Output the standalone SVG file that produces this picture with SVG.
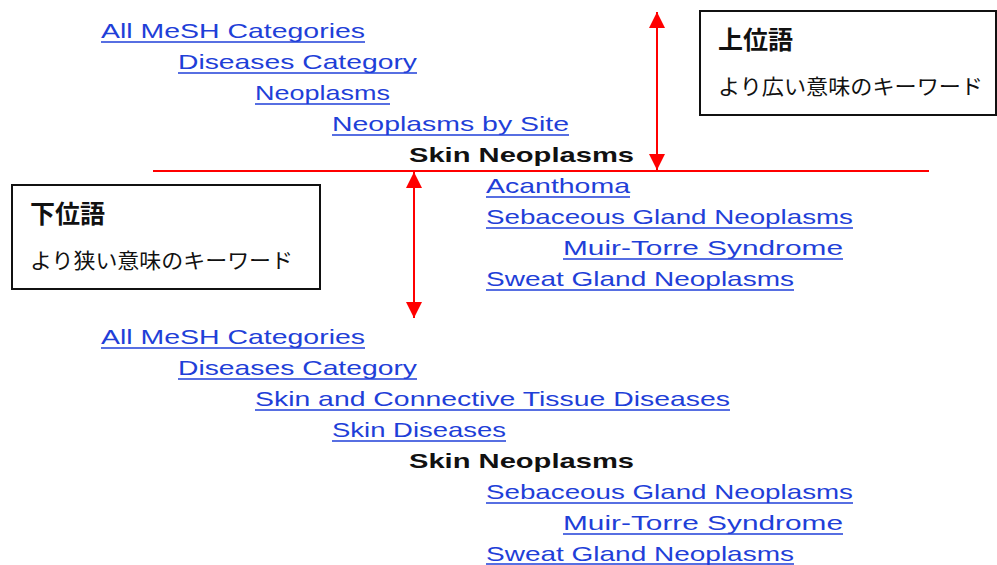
<svg xmlns="http://www.w3.org/2000/svg" width="997" height="565" viewBox="0 0 997 565">
<defs>
<style>
.lk{font-family:"Liberation Sans","DejaVu Sans",sans-serif;font-size:21px;fill:#1f3fd8}
.cur{font-family:"Liberation Sans","DejaVu Sans",sans-serif;font-size:21px;font-weight:bold;fill:#111}
.ul{stroke:#1f3fd8;stroke-width:1.5}
.box{fill:#fff;stroke:#111;stroke-width:2}
.ttl{font-family:"Noto Sans CJK JP",sans-serif;font-size:25px;font-weight:bold;fill:#111}
.sub{font-family:"Noto Sans CJK JP",sans-serif;font-size:21px;fill:#111}
.red{stroke:#f00;stroke-width:2;fill:none}
</style>
<marker id="ah" viewBox="0 0 10 10" refX="10" refY="5" markerWidth="8" markerHeight="8" orient="auto-start-reverse" markerUnits="strokeWidth">
<path d="M0,0 L10,5 L0,10 Z" fill="#f00"/>
</marker>
</defs>
<rect width="997" height="565" fill="#fff"/>

<g id="tree-top">
<text class="lk" x="101" y="38" textLength="264" lengthAdjust="spacingAndGlyphs">All MeSH Categories</text><line class="ul" x1="101" y1="42" x2="365" y2="42"/>
<text class="lk" x="178" y="69" textLength="239" lengthAdjust="spacingAndGlyphs">Diseases Category</text><line class="ul" x1="178" y1="73" x2="417" y2="73"/>
<text class="lk" x="255" y="100" textLength="135" lengthAdjust="spacingAndGlyphs">Neoplasms</text><line class="ul" x1="255" y1="104" x2="390" y2="104"/>
<text class="lk" x="332" y="131" textLength="237" lengthAdjust="spacingAndGlyphs">Neoplasms by Site</text><line class="ul" x1="332" y1="135" x2="569" y2="135"/>
<text class="cur" x="409" y="162" textLength="225" lengthAdjust="spacingAndGlyphs">Skin Neoplasms</text>
<text class="lk" x="486" y="193" textLength="144" lengthAdjust="spacingAndGlyphs">Acanthoma</text><line class="ul" x1="486" y1="197" x2="630" y2="197"/>
<text class="lk" x="486" y="224" textLength="367" lengthAdjust="spacingAndGlyphs">Sebaceous Gland Neoplasms</text><line class="ul" x1="486" y1="228" x2="853" y2="228"/>
<text class="lk" x="563" y="255" textLength="280" lengthAdjust="spacingAndGlyphs">Muir-Torre Syndrome</text><line class="ul" x1="563" y1="259" x2="843" y2="259"/>
<text class="lk" x="486" y="286" textLength="308" lengthAdjust="spacingAndGlyphs">Sweat Gland Neoplasms</text><line class="ul" x1="486" y1="290" x2="794" y2="290"/>
</g>

<g id="tree-bottom">
<text class="lk" x="101" y="344" textLength="264" lengthAdjust="spacingAndGlyphs">All MeSH Categories</text><line class="ul" x1="101" y1="348" x2="365" y2="348"/>
<text class="lk" x="178" y="375" textLength="239" lengthAdjust="spacingAndGlyphs">Diseases Category</text><line class="ul" x1="178" y1="379" x2="417" y2="379"/>
<text class="lk" x="255" y="406" textLength="475" lengthAdjust="spacingAndGlyphs">Skin and Connective Tissue Diseases</text><line class="ul" x1="255" y1="410" x2="730" y2="410"/>
<text class="lk" x="332" y="437" textLength="174" lengthAdjust="spacingAndGlyphs">Skin Diseases</text><line class="ul" x1="332" y1="441" x2="506" y2="441"/>
<text class="cur" x="409" y="468" textLength="225" lengthAdjust="spacingAndGlyphs">Skin Neoplasms</text>
<text class="lk" x="486" y="499" textLength="367" lengthAdjust="spacingAndGlyphs">Sebaceous Gland Neoplasms</text><line class="ul" x1="486" y1="503" x2="853" y2="503"/>
<text class="lk" x="563" y="530" textLength="280" lengthAdjust="spacingAndGlyphs">Muir-Torre Syndrome</text><line class="ul" x1="563" y1="534" x2="843" y2="534"/>
<text class="lk" x="486" y="561" textLength="308" lengthAdjust="spacingAndGlyphs">Sweat Gland Neoplasms</text><line class="ul" x1="486" y1="564" x2="794" y2="564"/>
</g>

<g id="connectors">
<line class="red" x1="153" y1="171" x2="929" y2="171"/>
<line class="red" x1="657" y1="12" x2="657" y2="170" marker-start="url(#ah)" marker-end="url(#ah)"/>
<line class="red" x1="414" y1="172" x2="414" y2="318" marker-start="url(#ah)" marker-end="url(#ah)"/>
</g>

<g id="broader">
<rect class="box" x="700" y="11" width="296" height="104"/>
<text class="ttl" x="718" y="49">上位語</text>
<text class="sub" x="718" y="94" textLength="265" lengthAdjust="spacingAndGlyphs">より広い意味のキーワード</text>
</g>

<g id="narrower">
<rect class="box" x="12" y="185" width="308" height="104"/>
<text class="ttl" x="30" y="223">下位語</text>
<text class="sub" x="30" y="268" textLength="263" lengthAdjust="spacingAndGlyphs">より狭い意味のキーワード</text>
</g>
</svg>
